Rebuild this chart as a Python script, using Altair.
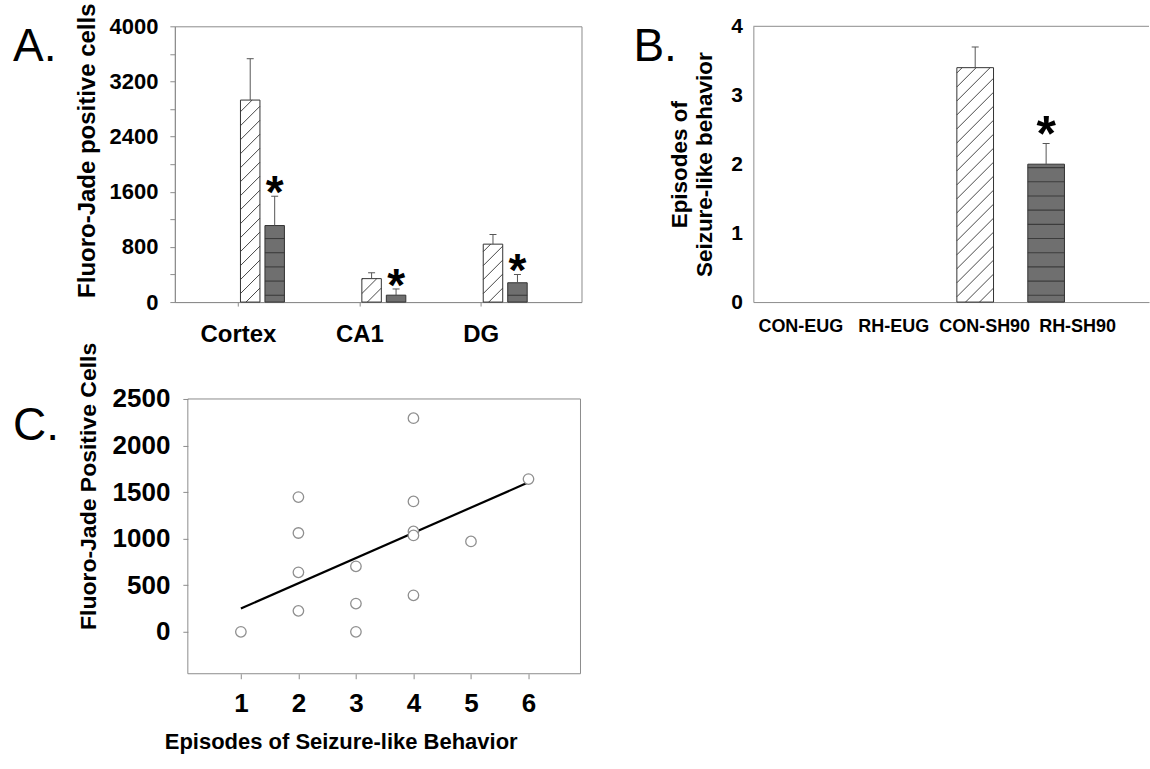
import json

import altair as alt
import pandas as pd

FONT = "Liberation Sans"
FRAME = "#8c8c8c"
INK = "#333333"
SOLID_FILL = "#6f6f6f"
STRIPE = "#3c3c3c"
MARKER = "#8f8f8f"

# --- A: Fluoro-Jade positive cells by region ---------------------------------
regions = ["Cortex", "CA1", "DG"]
groups = ["CON-EUG", "RH-EUG", "CON-SH90", "RH-SH90"]
fj_con_sh90 = [2930, 340, 840]
fj_con_sh90_sem = [600, 85, 140]
fj_rh_sh90 = [1110, 100, 280]
fj_rh_sh90_sem = [425, 90, 120]
fj_rh_sh90_sig = [True, True, True]

# --- B: seizure-like episodes per group --------------------------------------
episodes_mean = [0, 0, 3.4, 2.0]
episodes_sem = [0, 0, 0.3, 0.3]
episodes_sig = [False, False, False, True]

# --- C: episodes vs. Fluoro-Jade positive cells ------------------------------
scatter_episodes = [1, 2, 2, 2, 2, 3, 3, 3, 4, 4, 4, 4, 4, 5, 6]
scatter_cells = [0, 1447, 1061, 639, 225, 703, 303, 0, 2294, 1400, 1078, 1035, 392, 971, 1640]
fit_episodes = [1, 6]
fit_cells = [250, 1605]

panel_letters = ["A.", "B.", "C."]


def bar_style(group):
    return "hatch" if group.startswith("CON") else "solid"


rows_a = []
for i in range(len(regions)):
    for name, vals, sems, sigs in (
        ("CON-SH90", fj_con_sh90, fj_con_sh90_sem, [False] * len(regions)),
        ("RH-SH90", fj_rh_sh90, fj_rh_sh90_sem, fj_rh_sh90_sig),
    ):
        rows_a.append(dict(cat=i, slot=groups.index(name), value=vals[i], sem=sems[i],
                           sig=sigs[i], style=bar_style(name)))
df_a = pd.DataFrame(rows_a)

df_b = pd.DataFrame(dict(cat=list(range(len(groups))), slot=[1.5] * len(groups),
                         value=episodes_mean, sem=episodes_sem, sig=episodes_sig,
                         style=[bar_style(g) for g in groups]))


def letter_layer(letter, at):
    return alt.Chart(pd.DataFrame({"letter": [letter]})).mark_text(
        font=FONT, fontSize=46, align="left", baseline="alphabetic", color="black"
    ).encode(text="letter:N", x=alt.value(at[0]), y=alt.value(at[1]))


def bar_panel(df, x_dom, y_dom, width, height, x_axis, y_axis, letter, letter_at,
              slot_px=0.0, bar_px=20.0, cap_px=7.0, hatch_px=14.0,
              stripe_px=14.2, stripe_phase_px=6.8, star_size=40, star_dy=10,
              full_frame=True):
    upx = (x_dom[1] - x_dom[0]) / width      # x units per pixel
    vpx = (y_dom[1] - y_dom[0]) / height     # y units per pixel
    hw = bar_px / 2 * upx
    cw = cap_px / 2 * upx
    rise = bar_px * vpx                      # 45-degree hatch across the bar
    hsp = hatch_px * vpx
    ssp = stripe_px * vpx
    soff = stripe_phase_px * vpx
    slot_step = slot_px * upx

    xs = alt.Scale(domain=x_dom, nice=False, zero=False)
    ys = alt.Scale(domain=y_dom, nice=False, zero=False)

    def X(f):
        return alt.X(f"{f}:Q", scale=xs, axis=x_axis)

    def Y(f):
        return alt.Y(f"{f}:Q", scale=ys, axis=y_axis)

    base = alt.Chart(df).transform_filter("datum.value > 0").transform_calculate(
        xc=f"datum.cat + (datum.slot - 1.5) * {slot_step}",
        xl=f"datum.xc - {hw}",
        xr=f"datum.xc + {hw}",
        top="datum.value + datum.sem",
        base0="0",
    )

    fills = base.mark_rect(strokeWidth=0).encode(
        x=X("xl"), x2="xr:Q", y=Y("value"), y2="base0:Q",
        fill=alt.Fill("style:N", legend=None,
                      scale=alt.Scale(domain=["hatch", "solid"], range=["white", SOLID_FILL])),
    )

    hatch = base.transform_filter("datum.style == 'hatch'").transform_calculate(
        k=f"sequence(0, ceil((datum.value + {rise}) / {hsp}) + 1)"
    ).transform_flatten(["k"]).transform_calculate(
        yl=f"datum.k * {hsp} - {rise}"
    ).transform_filter(
        f"datum.yl < datum.value && datum.yl + {rise} > 0"
    ).transform_calculate(
        hx1=f"datum.yl < 0 ? datum.xl - datum.yl / {rise} * {2 * hw} : datum.xl",
        hy1="max(datum.yl, 0)",
        hx2=f"datum.yl + {rise} > datum.value ? datum.xl + (datum.value - datum.yl) / {rise} * {2 * hw} : datum.xr",
        hy2=f"min(datum.yl + {rise}, datum.value)",
    ).mark_rule(color=INK, strokeWidth=0.9).encode(
        x=X("hx1"), x2="hx2:Q", y=Y("hy1"), y2="hy2:Q"
    )

    stripes = base.transform_filter("datum.style == 'solid'").transform_calculate(
        k=f"sequence(0, ceil(datum.value / {ssp}) + 1)"
    ).transform_flatten(["k"]).transform_calculate(
        sy=f"{soff} + datum.k * {ssp}"
    ).transform_filter(f"datum.sy < datum.value - {vpx}").mark_rule(
        color=STRIPE, strokeWidth=1.1
    ).encode(x=X("xl"), x2="xr:Q", y=Y("sy"))

    outline = base.mark_rect(fillOpacity=0, stroke=INK, strokeWidth=1).encode(
        x=X("xl"), x2="xr:Q", y=Y("value"), y2="base0:Q"
    )

    stems = base.mark_rule(color="#555555", strokeWidth=1).encode(
        x=X("xc"), y=Y("value"), y2="top:Q"
    )

    caps = base.transform_calculate(
        cl=f"datum.xc - {cw}", cr=f"datum.xc + {cw}"
    ).mark_rule(color="#555555", strokeWidth=1).encode(
        x=X("cl"), x2="cr:Q", y=Y("top")
    )

    stars = base.transform_filter("datum.sig").mark_text(
        text="*", font=FONT, fontWeight="bold", fontSize=star_size,
        baseline="alphabetic", dy=star_dy, color="black"
    ).encode(x=X("xc"), y=Y("top"))

    layers = [fills, hatch, stripes, outline, stems, caps, stars,
              letter_layer(letter, letter_at)]
    if not full_frame:
        top_rule = alt.Chart(pd.DataFrame({"ymax": [y_dom[1]]})).mark_rule(
            color=FRAME, strokeWidth=1
        ).encode(y=Y("ymax"))
        layers.insert(0, top_rule)

    return alt.layer(*layers).properties(
        width=width, height=height,
        view=alt.ViewBackground(stroke=FRAME if full_frame else "transparent"),
    )


# ---------------- panel A ----------------
x_axis_a = alt.Axis(values=list(range(len(regions))),
                    labelExpr=f"{json.dumps(regions)}[datum.value]",
                    title=None, tickSize=4, labelFontSize=24, labelPadding=16)
y_axis_a = alt.Axis(values=list(range(0, 4001, 400)), format="d",
                    labelExpr="datum.value % 800 === 0 ? datum.label : ''",
                    title="Fluoro-Jade positive cells", titleFontSize=24,
                    titleY=124, titlePadding=9, labelFontSize=22,
                    tickSize=5, labelPadding=12)

panel_a = bar_panel(df_a, [-0.52, 2.83], [0, 4000], 407, 276, x_axis_a, y_axis_a,
                    panel_letters[0], (-162, 35), slot_px=24.5, bar_px=19.5,
                    cap_px=7, hatch_px=14, star_size=46, star_dy=12)

# ---------------- panel B ----------------
label_shift_px = [-33, -11, 9, 31]
x_axis_b = alt.Axis(values=list(range(len(groups))),
                    labelExpr=f"{json.dumps(groups)}[datum.value]",
                    title=None, ticks=False, labelFontSize=18, labelPadding=15,
                    labelOffset={"condition": [{"test": f"datum.value === {g}", "value": s}
                                               for g, s in enumerate(label_shift_px)],
                                 "value": 0})
y_axis_b = alt.Axis(values=[0, 1, 2, 3, 4], format="d",
                    title=["Episodes of", "Seizure-like behavior"], titleFontSize=22.5,
                    titleLineHeight=25, titlePadding=14, labelFontSize=21,
                    ticks=False, labelPadding=11)

panel_b = bar_panel(df_b, [-1.127, 4.45], [0, 4], 396, 276, x_axis_b, y_axis_b,
                    panel_letters[1], (-120, 35), bar_px=36.7, cap_px=7,
                    hatch_px=14, star_size=50, star_dy=8, full_frame=False)

# ---------------- panel C ----------------
points_df = pd.DataFrame({"episodes": scatter_episodes, "cells": scatter_cells})
fit_df = pd.DataFrame({"episodes": fit_episodes, "cells": fit_cells})

width_c, height_c, inset_c = 406, 275, 13     # y axis sits inset_c px inside the view
x_dom_c = [-0.148, 6.904]
y_dom_c = [-450, 2500]
frame_left = x_dom_c[0] + inset_c * (x_dom_c[1] - x_dom_c[0]) / width_c

xs_c = alt.Scale(domain=x_dom_c, nice=False, zero=False)
ys_c = alt.Scale(domain=y_dom_c, nice=False, zero=False)
x_axis_c = alt.Axis(values=[1, 2, 3, 4, 5, 6], format="d", domain=False,
                    title="Episodes of Seizure-like Behavior", titleFontSize=22,
                    titleX=166, titlePadding=15, labelFontSize=26, tickSize=5,
                    labelPadding=12)
y_axis_c = alt.Axis(values=list(range(0, 2501, 500)), format="d", domain=False,
                    offset=-inset_c,
                    title="Fluoro-Jade Positive Cells", titleFontSize=23,
                    titleY=87, titlePadding=12, labelFontSize=26, tickSize=5,
                    labelPadding=13)

frame_c = alt.Chart(pd.DataFrame({"f": [0]})).mark_rect(
    fillOpacity=0, stroke=FRAME, strokeWidth=1
).encode(
    x=alt.X(datum=frame_left, scale=xs_c, axis=x_axis_c),
    x2=alt.X2(datum=x_dom_c[1]),
    y=alt.Y(datum=y_dom_c[0], scale=ys_c, axis=y_axis_c),
    y2=alt.Y2(datum=y_dom_c[1]),
)
fit_line = alt.Chart(fit_df).mark_line(color="black", strokeWidth=2.2).encode(
    x=alt.X("episodes:Q", scale=xs_c, axis=x_axis_c),
    y=alt.Y("cells:Q", scale=ys_c, axis=y_axis_c),
)
points = alt.Chart(points_df).mark_point(
    shape="circle", size=110, fill="white", fillOpacity=1, stroke=MARKER,
    strokeWidth=1.3, opacity=1
).encode(
    x=alt.X("episodes:Q", scale=xs_c, axis=x_axis_c),
    y=alt.Y("cells:Q", scale=ys_c, axis=y_axis_c),
)
panel_c = alt.layer(frame_c, fit_line, points,
                    letter_layer(panel_letters[2], (-162, 41))).properties(
    width=width_c, height=height_c, view=alt.ViewBackground(stroke="transparent")
)

chart = alt.concat(
    panel_a, panel_b, panel_c, columns=2, bounds="flush",
    spacing={"row": 97, "column": 172},
).properties(
    padding={"left": 12, "top": 2, "right": 0, "bottom": 0},
    background="white",
).configure_view(stroke="transparent").configure_axis(
    labelFont=FONT, titleFont=FONT, labelFontWeight="bold", titleFontWeight="bold",
    labelColor="black", titleColor="black", domainColor=FRAME, tickColor=FRAME,
    domainWidth=1, tickWidth=1, grid=False, labelOverlap=False, labelFlush=False,
)

chart.save("out.html", embed_options={"renderer": "svg", "actions": False})
